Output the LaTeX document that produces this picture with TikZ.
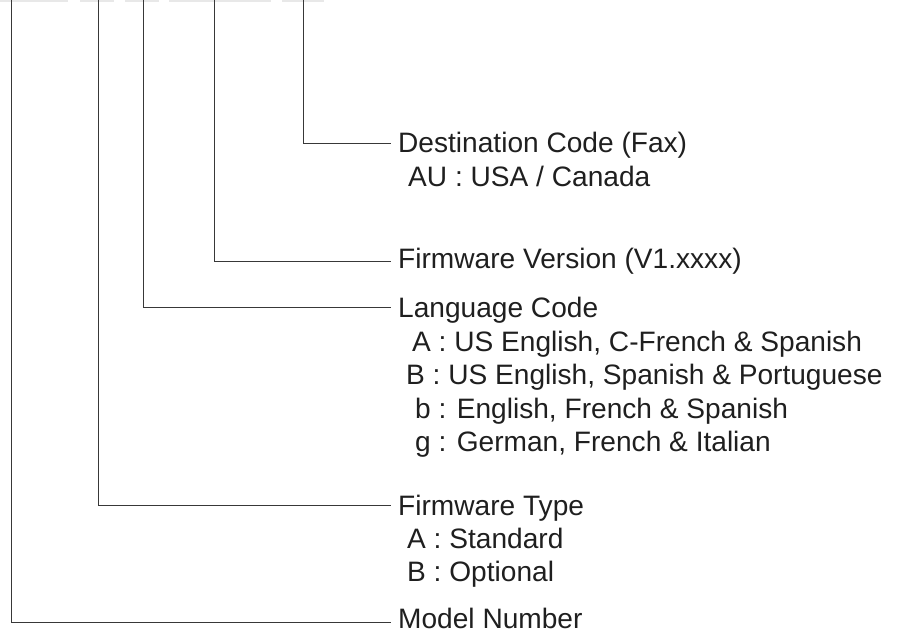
\documentclass[tikz,border=0pt]{standalone}
\usepackage{fontspec}
\setmainfont{Liberation Sans}
\begin{document}
\begin{tikzpicture}[x=1pt,y=-1pt,
  lbl/.style={anchor=base west,inner sep=0pt,text=black!88,font=\fontsize{28.1}{33}\selectfont},
  conn/.style={draw=black!78,line width=1pt},
  topbar/.style={fill=black!9,draw=none}]
\useasboundingbox (0,0) rectangle (923,637);
% partial boxes at top edge
\fill[topbar] (0,0) rectangle (68,1.5);
\fill[topbar] (80,0) rectangle (114,1.5);
\fill[topbar] (125,0) rectangle (159,1.5);
\fill[topbar] (169,0) rectangle (271,1.5);
\fill[topbar] (282,0) rectangle (324,1.5);
% tops of leader lines
\coordinate (t1) at (303,0);
\coordinate (t2) at (214,0);
\coordinate (t3) at (143,0);
\coordinate (t4) at (98,0);
\coordinate (t5) at (11,0);
% labels
\node[lbl] (dest) at (398,152) {Destination Code (Fax)};
\node[lbl] (au) at (408,186) {AU : USA / Canada};
\node[lbl] (fwv) at (398,268) {Firmware Version (V1.xxxx)};
\node[lbl] (lang) at (398,317) {Language Code};
\node[lbl] (la) at (412,351) {A : US English, C-French \& Spanish};
\node[lbl] (lb) at (406,384) {B : US English, Spanish \& Portuguese};
\node[lbl] (lbs) at (415,418) {b : English, French \& Spanish};
\node[lbl] (lg) at (415,451) {g : German, French \& Italian};
\node[lbl] (fwt) at (398,515) {Firmware Type};
\node[lbl] (fa) at (407,548) {A : Standard};
\node[lbl] (fb) at (407,581) {B : Optional};
\node[lbl] (model) at (398,628) {Model Number};
% end points of leaders
\coordinate (e1) at (391,143);
\coordinate (e2) at (391,261);
\coordinate (e3) at (391,307);
\coordinate (e4) at (391,505);
\coordinate (e5) at (391,622);
\draw[conn] (t1) |- (e1);
\draw[conn] (t2) |- (e2);
\draw[conn] (t3) |- (e3);
\draw[conn] (t4) |- (e4);
\draw[conn] (t5) |- (e5);
\end{tikzpicture}
\end{document}
